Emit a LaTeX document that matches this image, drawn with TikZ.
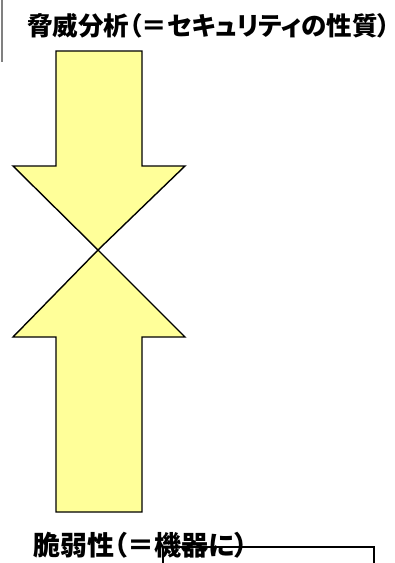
\documentclass[tikz,border=0pt]{standalone}
\usepackage{fontspec}
\newfontfamily\jpfont{Noto Sans CJK JP}[RawFeature=+palt]
\usetikzlibrary{positioning}
\definecolor{arrowyellow}{HTML}{FFFF99}

\begin{document}
\begin{tikzpicture}[x=1pt,y=-1pt,
 every node/.style={font=\jpfont\bfseries\fontsize{27}{27}\selectfont,inner sep=0pt},
 yarrow/.style={draw=black,line width=1.4pt,fill=arrowyellow,line join=miter},
 frame/.style={draw=black,line width=1.3pt}]
\useasboundingbox (0,0) rectangle (395,563);
\draw[gray,line width=1.2pt] (2,0) -- (2,62);
\node[anchor=west,font=\jpfont\bfseries\fontsize{25.5}{25.5}\selectfont] (threat) at (27,26) {脅威分析（＝セキュリティの性質）};
% two block arrows meeting tip to tip
\coordinate (tip) at (98,250);
\draw[yarrow] (56,51) -- (142,51) -- (142,166) -- (185,166) -- (tip) -- (13,166) -- (56,166) -- cycle;
\draw[yarrow] (tip) -- (185,337) -- (142,337) -- (142,512) -- (56,512) -- (56,337) -- (13,337) -- cycle;
\node[anchor=west] (vuln) at (33,545) {脆弱性（＝機器に）};
\draw[frame] (163,563) -- (163,547) -- (374,547) -- (374,563);
\end{tikzpicture}
\end{document}
